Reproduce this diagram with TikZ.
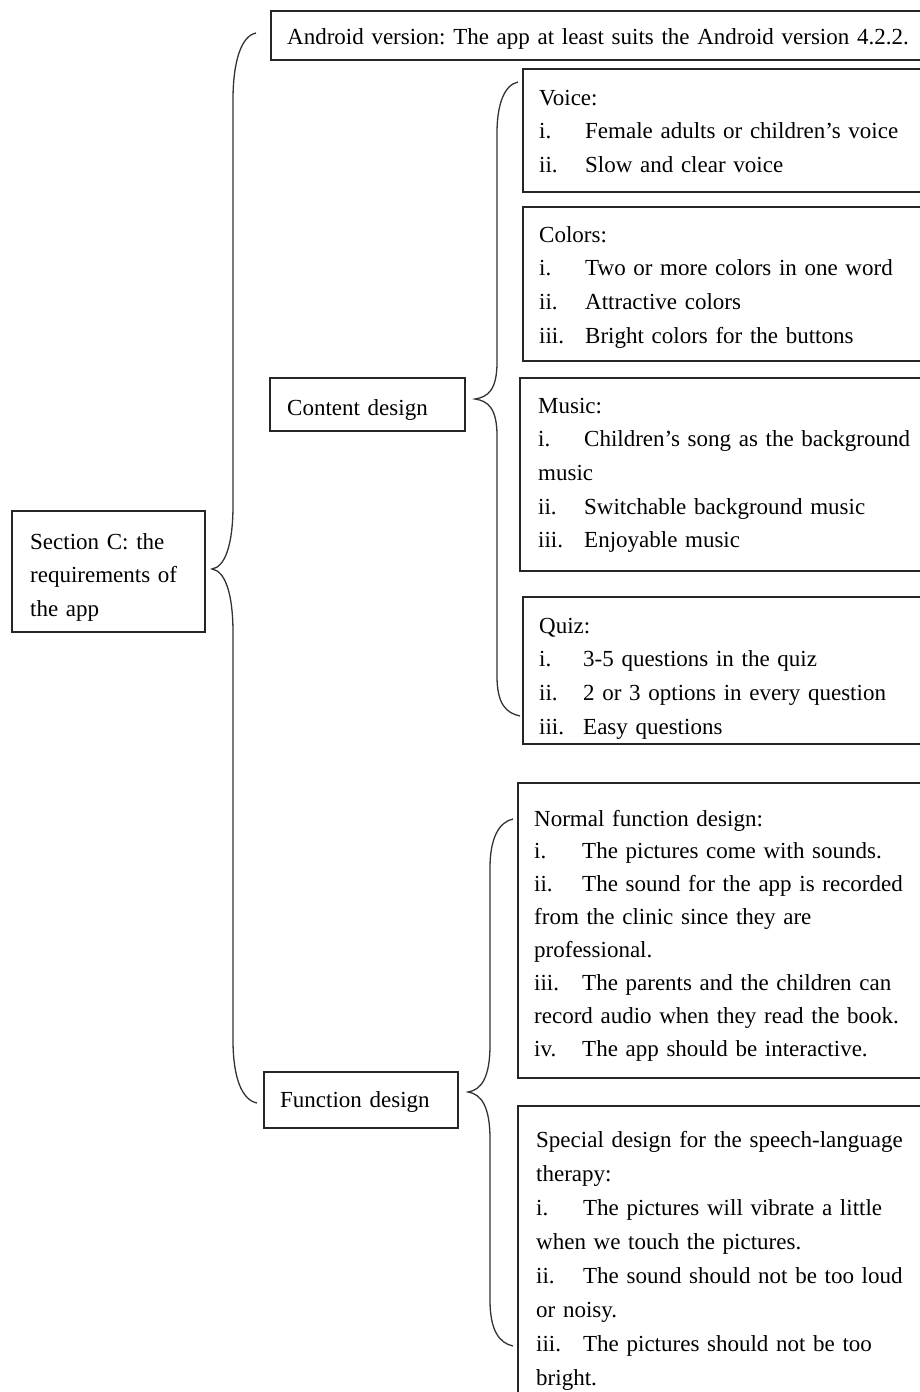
\documentclass[tikz,border=0pt]{standalone}
\usepackage{fontspec}
\setmainfont{Liberation Serif}
\newcommand\lbl[2][46]{\makebox[#1pt][l]{#2}}
\frenchspacing
\begin{document}
\begin{tikzpicture}[x=1pt,y=-1pt,
  box/.style={draw=black!85, line width=1.5pt, anchor=north west, inner sep=0pt},
  txt/.style={anchor=base west, inner sep=0pt, align=left, text width=640pt,
    font=\fontsize{23}{#1}\selectfont},
  txt/.default=33.7,
  brace/.style={draw=black!80, line width=1.3pt}]
\useasboundingbox (0,0) rectangle (919,1392);

% boxes
\node[box, minimum width=660pt, minimum height=49pt] (android) at (270,10) {};
\node[box, minimum width=193pt, minimum height=121pt] (section) at (11,510) {};
\node[box, minimum width=195pt, minimum height=53pt] (content) at (269,377) {};
\node[box, minimum width=194pt, minimum height=56pt] (function) at (263,1071) {};
\node[box, minimum width=410pt, minimum height=123pt] (voice) at (522,68) {};
\node[box, minimum width=410pt, minimum height=154pt] (colors) at (522,206) {};
\node[box, minimum width=412pt, minimum height=193pt] (music) at (519,377) {};
\node[box, minimum width=410pt, minimum height=147pt] (quiz) at (522,596) {};
\node[box, minimum width=415pt, minimum height=295pt] (normal) at (517,782) {};
\node[box, minimum width=415pt, minimum height=300pt] (special) at (517,1105) {};

% texts
\node[txt] (androidt) at (287,44) {Android version: The app at least suits the Android version 4.2.2.};
\node[txt] (sectiont) at (30,549) {Section C: the\\requirements of\\the app};
\node[txt] (contentt) at (287,415) {Content design};
\node[txt] (functiont) at (280,1107) {Function design};
\node[txt] (voicet) at (539,105) {Voice:\\\lbl{i.}Female adults or children’s voice\\\lbl{ii.}Slow and clear voice};
\node[txt] (colorst) at (539,242) {Colors:\\\lbl{i.}Two or more colors in one word\\\lbl{ii.}Attractive colors\\\lbl{iii.}Bright colors for the buttons};
\node[txt] (musict) at (538,413) {Music:\\\lbl{i.}Children’s song as the background\\music\\\lbl{ii.}Switchable background music\\\lbl{iii.}Enjoyable music};
\node[txt] (quizt) at (539,633) {Quiz:\\\lbl[44]{i.}3-5 questions in the quiz\\\lbl[44]{ii.}2 or 3 options in every question\\\lbl[44]{iii.}Easy questions};
\node[txt=32.9] (normalt) at (534,826) {Normal function design:\\\lbl[48]{i.}The pictures come with sounds.\\\lbl[48]{ii.}The sound for the app is recorded\\from the clinic since they are\\professional.\\\lbl[48]{iii.}The parents and the children can\\record audio when they read the book.\\\lbl[48]{iv.}The app should be interactive.};
\node[txt=34] (specialt) at (536,1147) {Special design for the speech-language\\therapy:\\\lbl[47]{i.}The pictures will vibrate a little\\when we touch the pictures.\\\lbl[47]{ii.}The sound should not be too loud\\or noisy.\\\lbl[47]{iii.}The pictures should not be too\\bright.};

% brace coordinates
\coordinate (mT) at (256,33);
\coordinate (mTip) at (212,569);
\coordinate (mB) at (257,1103);
\coordinate (cT) at (518,82);
\coordinate (cTip) at (475,399);
\coordinate (cB) at (520,716);
\coordinate (fT) at (513,819);
\coordinate (fTip) at (468,1092);
\coordinate (fB) at (513,1346);

% main brace
\draw[brace] (mT) .. controls +(-15,3) and +(0,-38) .. (233,100) -- (233,505)
  .. controls +(0,40) and +(13,-2) .. (mTip)
  .. controls +(13,2) and +(0,-40) .. (233,633) -- (233,1040)
  .. controls +(0,38) and +(-15,-3) .. (mB);
% content brace
\draw[brace] (cT) .. controls +(-14,3) and +(0,-28) .. (497,133) -- (497,362)
  .. controls +(0,28) and +(13,-2) .. (cTip)
  .. controls +(13,2) and +(0,-28) .. (497,436) -- (497,676)
  .. controls +(0,28) and +(-14,-3) .. (cB);
% function brace
\draw[brace] (fT) .. controls +(-14,3) and +(0,-30) .. (490,868) -- (490,1045)
  .. controls +(0,33) and +(13,-2) .. (fTip)
  .. controls +(13,2) and +(0,-33) .. (490,1139) -- (490,1300)
  .. controls +(0,30) and +(-14,-3) .. (fB);
\end{tikzpicture}
\end{document}
